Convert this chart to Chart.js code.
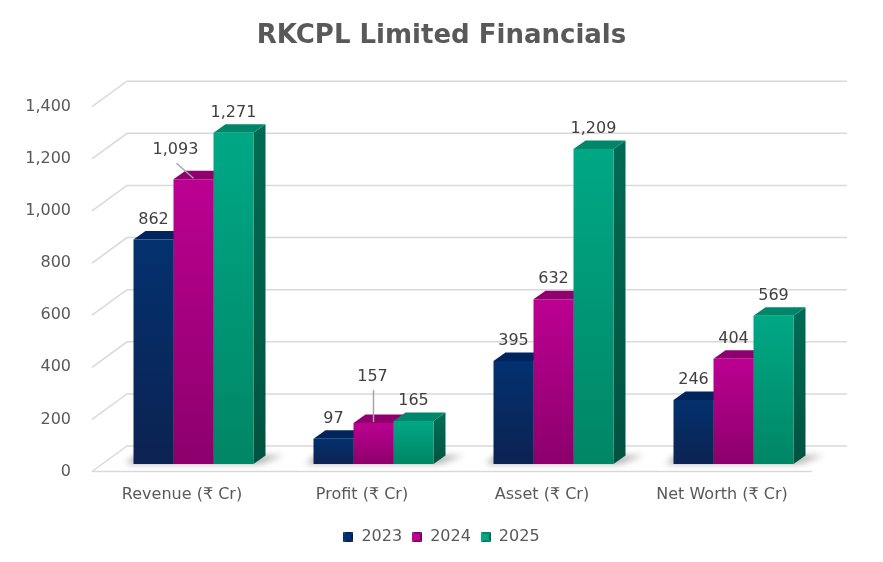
<!DOCTYPE html>
<html>
<head>
<meta charset="utf-8">
<script src="https://cdn.jsdelivr.net/npm/chart.js@4.4.1/dist/chart.umd.min.js"></script>
<style>
    html, body { margin: 0; padding: 0; background: #fff; }
    #wrap { width: 883px; height: 562px; position: relative; }
</style>
</head>
<body>
<div id="wrap"><canvas id="finChart"></canvas></div>
<script>
// chart data
const categories = ['Revenue (₹ Cr)', 'Profit (₹ Cr)', 'Asset (₹ Cr)', 'Net Worth (₹ Cr)'];
const years = ['2023', '2024', '2025'];
const values2023 = [862, 97, 395, 246];
const values2024 = [1093, 157, 632, 404];
const values2025 = [1271, 165, 1209, 569];
const yMin = 0;
const yMax = 1400;
const yStep = 200;

// look of the fake 3D box
const FONT = '"DejaVu Sans", sans-serif';
const textGray = '#595959';
const depth = { dx: 12, dy: -8.5 };        // bar depth
const frontShift = { dx: -11.5, dy: 7.5 };  // front edge of the floor
const backShift = { dx: 23.5, dy: -18 };    // back wall
const palette = [
    { top: '#03316f', bottom: '#0c2252', side: '#001b46', cap: '#00245e' },
    { top: '#bc0091', bottom: '#8c006c', side: '#70005a', cap: '#8f006e' },
    { top: '#00a886', bottom: '#008665', side: '#006a52', cap: '#00876a' }
];
// labels moved off the bar, with a leader line (dataset-index)
const labelNudge = { '1-0': { dx: -18, dy: -29 }, '1-1': { dx: -1, dy: -46 } };

function frontFill(i) {
    return (c) => {
        const chart = c.chart;
        if (!chart.chartArea || c.raw == null) return palette[i].top;
        const y = chart.scales.y;
        const g = chart.ctx.createLinearGradient(0, y.getPixelForValue(c.raw), 0, y.getPixelForValue(0));
        g.addColorStop(0, palette[i].top);
        g.addColorStop(1, palette[i].bottom);
        return g;
    };
}

function legendMarker(p) {
    const cv = document.createElement('canvas');
    cv.width = 10; cv.height = 10;
    const c = cv.getContext('2d');
    const tri = (pts, col) => {
        c.beginPath();
        c.moveTo(pts[0], pts[1]); c.lineTo(pts[2], pts[3]); c.lineTo(5, 5);
        c.closePath(); c.fillStyle = col; c.fill();
    };
    tri([0, 0, 10, 0], p.cap);
    tri([0, 0, 0, 10], p.top);
    tri([10, 0, 10, 10], p.side);
    tri([0, 10, 10, 10], p.bottom);
    c.fillStyle = p.top;
    c.fillRect(2, 2, 6, 6);
    return cv;
}
const markers = palette.map(legendMarker);

function shade(hex) {
    const v = parseInt(hex.slice(1), 16);
    const r = Math.round(((v >> 16) & 255) * 0.78);
    const g = Math.round(((v >> 8) & 255) * 0.78);
    const b = Math.round((v & 255) * 0.78);
    return 'rgb(' + r + ',' + g + ',' + b + ')';
}

function barBox(el) {
    const p = el.getProps(['x', 'y', 'base', 'width'], true);
    return { l: p.x - p.width / 2, r: p.x + p.width / 2, x: p.x, top: p.y, base: p.base };
}

const boxPlugin = {
    id: 'box3d',
    beforeDatasetsDraw(chart) {
        const { ctx, chartArea: a, scales: { y } } = chart;
        ctx.save();
        ctx.strokeStyle = '#d9d9d9';
        ctx.lineWidth = 1.5;
        y.ticks.forEach(t => {
            const py = y.getPixelForValue(t.value);
            ctx.beginPath();
            ctx.moveTo(a.left + frontShift.dx, py + frontShift.dy);
            ctx.lineTo(a.left + backShift.dx, py + backShift.dy);
            ctx.lineTo(a.right + backShift.dx, py + backShift.dy);
            ctx.stroke();
        });
        const p0 = y.getPixelForValue(0);
        ctx.beginPath();
        ctx.moveTo(a.left + frontShift.dx, p0 + frontShift.dy);
        ctx.lineTo(a.right + frontShift.dx, p0 + frontShift.dy);
        ctx.stroke();

        // floor shadows under each group
        const metas = chart.data.datasets.map((d, i) => chart.getDatasetMeta(i));
        categories.forEach((cat, j) => {
            const first = barBox(metas[0].data[j]);
            const last = barBox(metas[metas.length - 1].data[j]);
            ctx.save();
            ctx.filter = 'blur(3px)';
            ctx.fillStyle = 'rgba(0,0,0,0.30)';
            ctx.beginPath();
            ctx.moveTo(first.l - 8, first.base);
            ctx.lineTo(last.r + 6, first.base);
            ctx.lineTo(last.r + depth.dx + 18, first.base + depth.dy);
            ctx.lineTo(first.l + depth.dx - 10, first.base + depth.dy);
            ctx.closePath();
            ctx.fill();
            ctx.restore();
        });

        // side and top faces, fronts are drawn by the bar controller
        categories.forEach((cat, j) => {
            metas.forEach((meta, i) => {
                const b = barBox(meta.data[j]);
                const p = palette[i];
                const sg = ctx.createLinearGradient(0, b.top, 0, b.base);
                sg.addColorStop(0, p.side);
                sg.addColorStop(1, shade(p.side));
                ctx.fillStyle = sg;
                ctx.beginPath();
                ctx.moveTo(b.r, b.top);
                ctx.lineTo(b.r + depth.dx, b.top + depth.dy);
                ctx.lineTo(b.r + depth.dx, b.base + depth.dy);
                ctx.lineTo(b.r, b.base);
                ctx.closePath();
                ctx.fill();
                ctx.fillStyle = p.cap;
                ctx.beginPath();
                ctx.moveTo(b.l, b.top);
                ctx.lineTo(b.l + depth.dx, b.top + depth.dy);
                ctx.lineTo(b.r + depth.dx, b.top + depth.dy);
                ctx.lineTo(b.r, b.top);
                ctx.closePath();
                ctx.fill();
            });
        });
        ctx.restore();
    },
    afterDatasetsDraw(chart) {
        const { ctx } = chart;
        ctx.save();
        ctx.font = '16px ' + FONT;
        ctx.fillStyle = '#404040';
        ctx.textAlign = 'center';
        ctx.textBaseline = 'middle';
        chart.data.datasets.forEach((ds, i) => {
            chart.getDatasetMeta(i).data.forEach((el, j) => {
                const b = barBox(el);
                const n = labelNudge[i + '-' + j];
                const dx = n ? n.dx : 0;
                const dy = n ? n.dy : -20;
                if (n) {
                    ctx.strokeStyle = '#a6a6a6';
                    ctx.lineWidth = 1.5;
                    ctx.beginPath();
                    ctx.moveTo(b.x + dx + 1, b.top + dy + 13);
                    ctx.lineTo(b.x, b.top - 1);
                    ctx.stroke();
                }
                ctx.fillText(ds.data[j].toLocaleString('en-US'), b.x + dx, b.top + dy);
            });
        });
        ctx.restore();
    }
};

const seriesValues = [values2023, values2024, values2025];

const finChart = new Chart(document.getElementById('finChart'), {
    type: 'bar',
    data: {
        labels: categories,
        datasets: years.map((yr, i) => ({
            label: yr,
            data: seriesValues[i],
            backgroundColor: frontFill(i),
            borderWidth: 0,
            categoryPercentage: 0.6667,
            barPercentage: 1.0
        }))
    },
    options: {
        responsive: true,
        maintainAspectRatio: false,
        animation: false,
        events: [],
        layout: {
            padding: { left: 0, right: 0, top: 0, bottom: 7 }
        },
        plugins: {
            title: {
                display: true,
                text: 'RKCPL Limited Financials',
                color: textGray,
                font: { family: FONT, size: 26, weight: 'bold', lineHeight: 1.2 },
                padding: { top: 21, bottom: 47 }
            },
            legend: {
                display: true,
                position: 'bottom',
                labels: {
                    color: textGray,
                    font: { family: FONT, size: 16 },
                    boxWidth: 10,
                    boxHeight: 10,
                    padding: 10,
                    usePointStyle: true,
                    generateLabels(chart) {
                        const items = Chart.defaults.plugins.legend.labels.generateLabels(chart);
                        items.forEach((it, i) => { it.pointStyle = markers[i]; });
                        return items;
                    }
                }
            },
            tooltip: { enabled: false }
        },
        scales: {
            x: {
                grid: { display: false, drawTicks: false },
                border: { display: false },
                afterFit(s) { s.height = 55; },
                ticks: {
                    color: textGray,
                    font: { family: FONT, size: 16 },
                    padding: 21,
                    labelOffset: -11.5,
                    maxRotation: 0,
                    autoSkip: false
                }
            },
            y: {
                min: yMin,
                max: yMax,
                grid: { display: false, drawTicks: false },
                border: { display: false },
                afterFit(s) { s.width = 103.5; },
                ticks: {
                    stepSize: yStep,
                    color: textGray,
                    font: { family: FONT, size: 16 },
                    padding: 32.5,
                    labelOffset: 7.5,
                    callback: (v) => v.toLocaleString('en-US')
                }
            },
            // empty right margin, keeps title and legend centred on the page
            yRight: {
                position: 'right',
                min: yMin,
                max: yMax,
                grid: { display: false, drawTicks: false },
                border: { display: false },
                ticks: { display: false },
                afterFit(s) { s.width = 59.5; }
            }
        }
    },
    plugins: [boxPlugin]
});
</script>
</body>
</html>
